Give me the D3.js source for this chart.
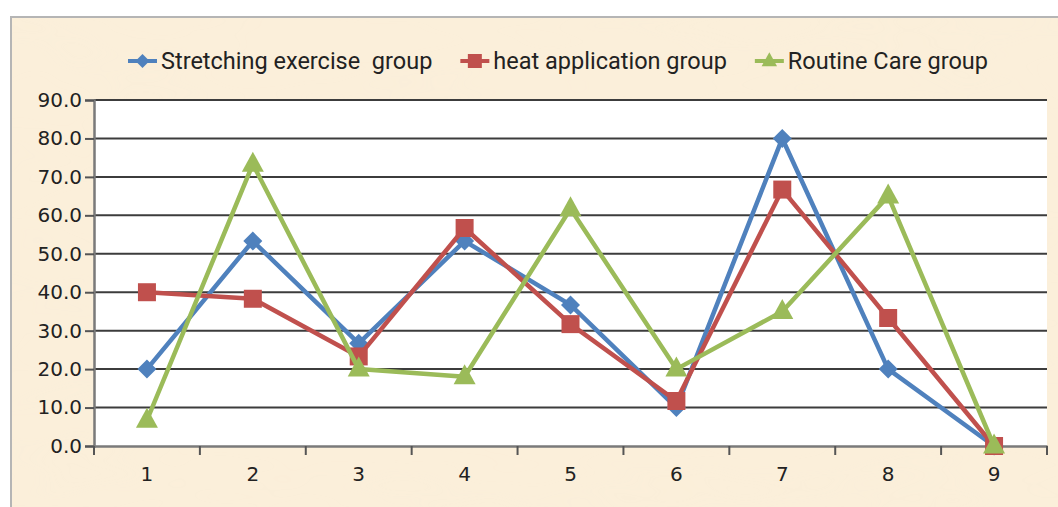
<!DOCTYPE html>
<html>
<head>
<meta charset="utf-8">
<script src="https://cdn.jsdelivr.net/npm/d3@7"></script>
<style>
  html, body { margin: 0; padding: 0; background: #fff; }
  svg { display: block; }
</style>
</head>
<body>
<div id="chart"></div>
<script>
const width = 1058,
      height = 507,
      margin = { top: 100, right: 11, bottom: 61, left: 94 };

// chart values
const categories = ['1', '2', '3', '4', '5', '6', '7', '8', '9'];
const stretching = [20.0, 53.3, 26.7, 53.3, 36.7, 10.0, 80.0, 20.0, 0.0];
const heat = [40.0, 38.3, 23.3, 56.7, 31.7, 11.7, 66.7, 33.3, 0.0];
const routine = [6.7, 73.3, 20.0, 18.0, 61.7, 20.0, 35.0, 65.0, 0.0];
const yTicks = [0, 10, 20, 30, 40, 50, 60, 70, 80, 90];

const series = [
    { name: 'Stretching exercise  group', values: stretching, color: '#4F81BD', marker: 'diamond' },
    { name: 'heat application group', values: heat, color: '#C0504D', marker: 'square' },
    { name: 'Routine Care group', values: routine, color: '#9BBB59', marker: 'triangle' }
];

const svg = d3.select('#chart').append('svg')
    .attr('width', width)
    .attr('height', height);

// parchment background
const defs = svg.append('defs');
const filt = defs.append('filter').attr('id', 'paper')
    .attr('x', 0).attr('y', 0).attr('width', '100%').attr('height', '100%');
filt.append('feTurbulence')
    .attr('type', 'fractalNoise')
    .attr('baseFrequency', '0.005 0.015')
    .attr('numOctaves', 3)
    .attr('seed', 7);
filt.append('feColorMatrix')
    .attr('type', 'matrix')
    .attr('values', '0 0 0 0 0.96  0 0 0 0 0.86  0 0 0 0 0.7  0 0 0 -1.4 0.85');

svg.append('rect')
    .attr('x', 11).attr('y', 17)
    .attr('width', width).attr('height', height)
    .attr('fill', '#FBEFDA')
    .attr('stroke', '#b5b5b5')
    .attr('stroke-width', 2);
svg.append('rect')
    .attr('x', 12).attr('y', 18)
    .attr('width', width).attr('height', height)
    .attr('filter', 'url(#paper)')
    .attr('opacity', 0.35);

const x = d3.scaleBand()
    .domain(categories)
    .range([margin.left, width - margin.right])
    .padding(0);

const y = d3.scaleLinear()
    .domain([0, 90])
    .range([height - margin.bottom, margin.top]);

const cx = d => x(d) + x.bandwidth() / 2;

// plot area
svg.append('rect')
    .attr('x', margin.left).attr('y', y(90))
    .attr('width', x.range()[1] - margin.left)
    .attr('height', y(0) - y(90))
    .attr('fill', '#fff');

// gridlines
svg.append('g')
    .selectAll('line')
    .data(yTicks.filter(v => v > 0))
    .join('line')
    .attr('x1', margin.left).attr('x2', x.range()[1])
    .attr('y1', d => y(d)).attr('y2', d => y(d))
    .attr('stroke', '#3c3c3c')
    .attr('stroke-width', 2);

// Y-axis
const yAxis = svg.append('g')
    .attr('transform', `translate(${margin.left},0)`)
    .call(d3.axisLeft(y).tickValues(yTicks).tickFormat(d3.format('.1f')).tickSize(9).tickPadding(3));
yAxis.select('.domain').attr('stroke', '#7a7a7a').attr('stroke-width', 2.5);
yAxis.selectAll('.tick line').attr('stroke', '#555').attr('stroke-width', 2);
yAxis.selectAll('text')
    .attr('font-family', 'DejaVu Sans, Verdana, sans-serif')
    .attr('font-size', 20)
    .attr('fill', '#222');

// X-axis
const xAxis = svg.append('g')
    .attr('transform', `translate(0,${y(0)})`)
    .call(d3.axisBottom(x).tickSize(0).tickPadding(21));
xAxis.select('.domain').attr('stroke', '#7a7a7a').attr('stroke-width', 2.5);
xAxis.selectAll('text')
    .attr('font-family', 'DejaVu Sans, Verdana, sans-serif')
    .attr('font-size', 20)
    .attr('fill', '#222');
xAxis.append('g')
    .selectAll('line')
    .data(categories.map(c => x(c)).concat([x.range()[1]]))
    .join('line')
    .attr('x1', d => d).attr('x2', d => d)
    .attr('y1', 0).attr('y2', 9)
    .attr('stroke', '#555')
    .attr('stroke-width', 2);

function markerPath(type, s) {
    if (type === 'diamond') return `M0,${-s}L${s},0L0,${s}L${-s},0Z`;
    if (type === 'square') return `M${-s},${-s}H${s}V${s}H${-s}Z`;
    return `M0,${-s * 1.25}L${s * 1.1},${s * 0.75}L${-s * 1.1},${s * 0.75}Z`;
}
const markerSize = { diamond: 9.5, square: 9, triangle: 10 };

const line = d3.line()
    .x((d, i) => cx(categories[i]))
    .y(d => y(d));

series.forEach(s => {
    const g = svg.append('g');
    g.append('path')
        .attr('d', line(s.values))
        .attr('fill', 'none')
        .attr('stroke', s.color)
        .attr('stroke-width', 4.5)
        .attr('stroke-linejoin', 'round');
    g.selectAll('path.mark')
        .data(s.values)
        .join('path')
        .attr('class', 'mark')
        .attr('transform', (d, i) => `translate(${cx(categories[i])},${y(d)})`)
        .attr('d', markerPath(s.marker, markerSize[s.marker]))
        .attr('fill', s.color);
});

// Legend
const legend = svg.append('g').attr('transform', 'translate(128,61)');
let lx = 0;
series.forEach(s => {
    const row = legend.append('g').attr('transform', `translate(${lx},0)`);
    row.append('line')
        .attr('x1', 0).attr('x2', 29)
        .attr('stroke', s.color).attr('stroke-width', 4);
    row.append('path')
        .attr('transform', 'translate(14.5,0)')
        .attr('d', markerPath(s.marker, 7))
        .attr('fill', s.color);
    const t = row.append('text')
        .attr('x', 33).attr('y', 0).attr('dy', '0.35em')
        .attr('font-family', 'Roboto, sans-serif')
        .attr('font-size', 23.5)
        .attr('fill', '#222')
        .style('white-space', 'pre')
        .text(s.name);
    lx += 33 + t.node().getComputedTextLength() + 28;
});
</script>
</body>
</html>
